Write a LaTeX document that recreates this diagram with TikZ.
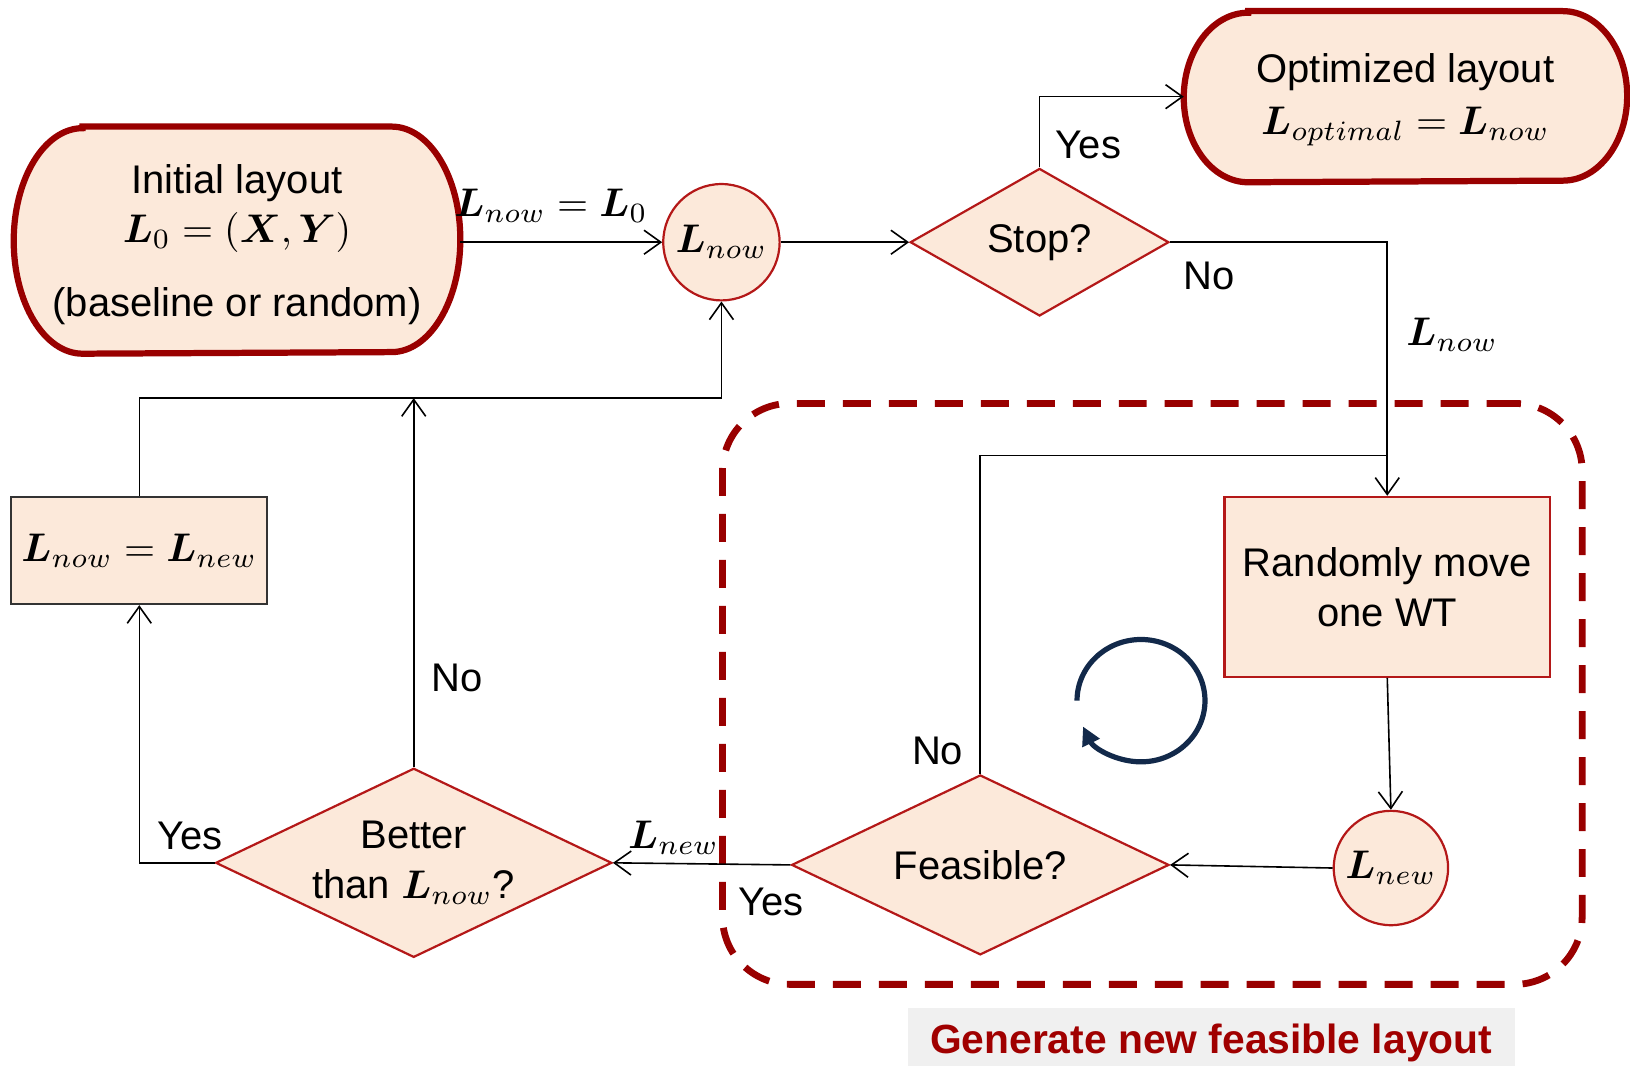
\documentclass[tikz,border=0pt]{standalone}
\usepackage[no-math]{fontspec}
\setmainfont{Liberation Sans}
\usepackage{bm}
\usetikzlibrary{shapes.geometric,arrows.meta,calc,backgrounds}
\definecolor{peach}{RGB}{252,233,218}
\definecolor{dred}{RGB}{153,0,0}
\definecolor{bred}{RGB}{180,24,24}
\definecolor{navy}{RGB}{18,41,74}
\definecolor{capbg}{RGB}{240,240,240}
\definecolor{captxt}{RGB}{160,0,0}
\begin{document}
\begin{tikzpicture}[x=0.26pt,y=-0.26pt,
  font=\fontsize{10}{12.5}\selectfont,
  stadium/.style={align=center,inner sep=0pt},
  stadline/.style={draw=dred,fill=peach,line width=1.56pt},
  decision/.style={diamond,aspect=2,draw=bred,fill=peach,line width=0.55pt,align=center,inner sep=-1pt},
  state/.style={circle,draw=bred,fill=peach,line width=0.55pt,inner sep=0pt},
  procbox/.style={rectangle,draw=bred,fill=peach,line width=0.55pt,align=center,inner sep=0pt},
  conn/.style={draw=black,line width=0.4pt},
  arr/.style={conn,-{Straight Barb[length=4.2pt,width=6pt]}},
  lab/.style={inner sep=0pt}]
\useasboundingbox (0,0) rectangle (1568,1025);

% group frame and caption
\node[draw=dred, line width=1.7pt, dash pattern=on 7pt off 4.5pt, rounded corners=16.9pt,
      minimum width=215pt, minimum height=145.3pt, inner sep=0pt] (frame) at (1108.5,667.5) {};
\node[fill=capbg, minimum width=151.8pt, minimum height=17.2pt, inner sep=0pt, text=captxt,
      font=\fontsize{10.2}{12}\selectfont\bfseries] (cap) at (1165,1003) {Generate new feasible layout};

% main nodes
\node[stadium, minimum width=111.3pt, minimum height=56.4pt] (init) at (228,231)
  {\rule{0pt}{9.5pt}Initial layout\\ $\bm{L}_0=(\bm{X},\bm{Y})$\\[6pt] (baseline or random)};
\node[state, minimum size=29.1pt] (lnow) at (694,233) {$\bm{L}_{now}$};
\node[decision, minimum width=64.7pt, minimum height=36.9pt] (stop) at (1000,233) {Stop?};
\node[stadium, minimum width=110.5pt, minimum height=42.4pt] (opt) at (1352,93)
  {\rule{0pt}{9pt}Optimized layout\\[0.5pt] $\bm{L}_{optimal}=\bm{L}_{now}$};
\node[procbox, minimum width=81.4pt, minimum height=45pt] (rand) at (1334.5,564.5) {Randomly move\\ one WT};
\node[state, minimum size=28.6pt] (lnew) at (1338,835) {$\bm{L}_{new}$};
\node[decision, minimum width=94.4pt, minimum height=45pt] (feas) at (943,832) {Feasible?};
\node[decision, minimum width=99.1pt, minimum height=47.3pt] (better) at (398,830) {Better\\ than $\bm{L}_{now}$?};
\node[procbox, draw=black!80, minimum width=64pt, minimum height=26.8pt] (upd) at (134,529.5) {$\bm{L}_{now}=\bm{L}_{new}$};

% stadium outlines (elliptical ends)
\begin{scope}[on background layer]
\draw[stadline] ([xshift=17.2pt]init.north west) -- ([xshift=-17.2pt]init.north east)
  arc[start angle=90, end angle=-90, x radius=17.2pt, y radius=28.2pt]
  -- ([xshift=17.2pt]init.south west)
  arc[start angle=270, end angle=90, x radius=17.2pt, y radius=28.2pt] -- cycle;
\draw[stadline] ([xshift=16.1pt]opt.north west) -- ([xshift=-16.1pt]opt.north east)
  arc[start angle=90, end angle=-90, x radius=16.1pt, y radius=21.2pt]
  -- ([xshift=16.1pt]opt.south west)
  arc[start angle=270, end angle=90, x radius=16.1pt, y radius=21.2pt] -- cycle;
\end{scope}

\coordinate (jr) at (1334.5,438);
\coordinate (jl) at (398,383);

% connectors
\draw[arr] (init.east |- lnow.west) -- (lnow.west);
\draw[arr] (lnow.east) -- (stop.west);
\draw[arr] (stop.north) |- (opt.west);
\draw[arr] (stop.east) -| (rand.north);
\draw[conn] (feas.north) |- (jr);
\draw[arr] (rand.south) -- (lnew.north);
\draw[arr] (lnew.west) -- (feas.east);
\draw[arr] (feas.west) -- (better.east);
\draw[arr] (better.north) -- (jl);
\draw[arr] (better.west) -| (upd.south);
\draw[arr] (upd.north) |- (jl) -| (lnow.south);

% labels
\node[lab] (l1) at (530,198) {$\bm{L}_{now}=\bm{L}_0$};
\node[lab] (l2) at (1047,139) {Yes};
\node[lab] (l3) at (1163,265) {No};
\node[lab] (l4) at (1397,322) {$\bm{L}_{now}$};
\node[lab] (l5) at (902,722) {No};
\node[lab] (l6) at (648,806) {$\bm{L}_{new}$};
\node[lab] (l7) at (742,868) {Yes};
\node[lab] (l8) at (440,652) {No};
\node[lab] (l9) at (183,804) {Yes};

% cycle icon
\draw[navy, line width=1.3pt, -{Triangle[length=4.6pt,width=4.6pt]}]
  (1097.6,674) ++(180:16pt and 15.3pt) arc[start angle=180, end angle=-155, x radius=16pt, y radius=15.3pt];
\end{tikzpicture}
\end{document}
